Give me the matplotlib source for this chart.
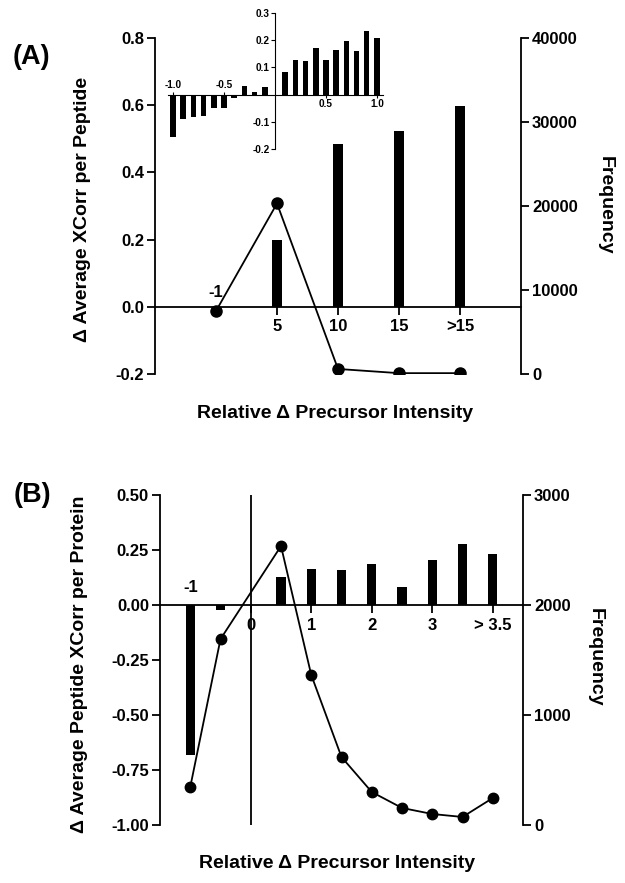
import matplotlib
matplotlib.use("Agg")
import matplotlib.pyplot as plt
import numpy as np

plt.rcParams['font.family'] = ['Liberation Sans', 'DejaVu Sans']
plt.rcParams['font.weight'] = 'bold'

# ---------------- Panel A data ----------------
a_categories = ["-1", "5", "10", "15", ">15"]
a_xcorr = [0.0, 0.20, 0.484, 0.522, 0.597]          # bars, left axis
a_freq = [7500, 20300, 600, 100, 100]                 # line, right axis

# inset
inset_x = [-1.0, -0.9, -0.8, -0.7, -0.6, -0.5, -0.4, -0.3, -0.2, -0.1,
           0.1, 0.2, 0.3, 0.4, 0.5, 0.6, 0.7, 0.8, 0.9, 1.0]
inset_vals = [-0.156, -0.091, -0.082, -0.079, -0.051, -0.051, -0.013, 0.030, 0.008, 0.027,
              0.084, 0.127, 0.123, 0.170, 0.128, 0.163, 0.196, 0.160, 0.233, 0.209]
inset_ticks = [-1.0, -0.5, 0.5, 1.0]
inset_ticklabels = ["-1.0", "-0.5", "0.5", "1.0"]

# ---------------- Panel B data ----------------
b_x = [-1, -0.5, 0.5, 1, 1.5, 2, 2.5, 3, 3.5, 4]
b_xcorr = [-0.682, -0.023, 0.129, 0.162, 0.158, 0.186, 0.083, 0.203, 0.276, 0.232]
b_freq = [345, 1690, 2536, 1364, 618, 300, 155, 100, 73, 245]
b_ticks = [-1, 0, 1, 2, 3, 4]
b_ticklabels = ["-1", "0", "1", "2", "3", "> 3.5"]

W, H = 625, 883
fig = plt.figure(figsize=(W / 100, H / 100), dpi=100)

def fx(px):
    return px / W

def fy(py):
    return 1 - py / H

LW = 1.3
TICKFS = 12
LABELFS = 14
INFS = 7.2

def style_main(ax, ax2):
    for s in ['top', 'right']:
        ax.spines[s].set_visible(False)
    ax.spines['left'].set_linewidth(LW)
    ax.spines['bottom'].set_position(('data', 0))
    ax.spines['bottom'].set_linewidth(LW)
    for s in ['top', 'left', 'bottom']:
        ax2.spines[s].set_visible(False)
    ax2.spines['right'].set_linewidth(LW)
    ax.tick_params(axis='y', direction='out', length=6, width=LW, labelsize=TICKFS, pad=2)
    ax.tick_params(axis='x', direction='out', length=6, width=LW, labelsize=TICKFS, pad=3)
    ax2.tick_params(axis='y', direction='out', length=6, width=LW, labelsize=TICKFS, pad=2)
    for t in ax.get_yticklabels() + ax2.get_yticklabels() + ax.get_xticklabels():
        t.set_fontweight('bold')

# ---------------- Panel A ----------------
axA = fig.add_axes([fx(155), fy(374), fx(521 - 155), (374 - 38) / H])
axA2 = axA.twinx()
posA = np.arange(len(a_categories))
axA.bar(posA, a_xcorr, width=0.15, color='black', zorder=2)
axA2.plot(posA, a_freq, color='black', lw=1.3, marker='o', ms=8, zorder=3)
axA.set_xlim(-1, 5)
axA.set_ylim(-0.2, 0.8)
axA.set_yticks([-0.2, 0.0, 0.2, 0.4, 0.6, 0.8])
axA.set_yticklabels(["-0.2", "0.0", "0.2", "0.4", "0.6", "0.8"])
axA2.set_ylim(0, 40000)
axA2.set_yticks([0, 10000, 20000, 30000, 40000])
axA.set_xticks(posA[1:])
axA.set_xticklabels(a_categories[1:])
style_main(axA, axA2)
axA.annotate(a_categories[0], (posA[0], 0), xytext=(0, 5), textcoords='offset points',
             ha='center', va='bottom', fontsize=TICKFS, fontweight='bold')

fig.text(fx(31), fy(57), "(A)", fontsize=19.5, fontweight='bold', ha='center', va='center')
fig.text(fx(83), fy(209), "Δ Average XCorr per Peptide", rotation=90, fontsize=LABELFS,
         fontweight='bold', ha='center', va='center')
fig.text(fx(605), fy(205), "Frequency", rotation=270, fontsize=LABELFS,
         fontweight='bold', ha='center', va='center')
fig.text(fx(335), fy(413), "Relative Δ Precursor Intensity", fontsize=LABELFS,
         fontweight='bold', ha='center', va='center')

# inset
axI = fig.add_axes([fx(168), fy(149), fx(383 - 168), (149 - 13) / H])
axI.patch.set_alpha(0)
axI.bar(inset_x, inset_vals, width=0.055, color='black')
axI.set_xlim(-1.05, 1.06)
axI.set_ylim(-0.2, 0.3)
for s in ['top', 'right']:
    axI.spines[s].set_visible(False)
axI.spines['left'].set_position(('data', 0))
axI.spines['bottom'].set_position(('data', 0))
axI.spines['left'].set_linewidth(0.8)
axI.spines['bottom'].set_linewidth(0.8)
axI.set_yticks([-0.2, -0.1, 0.1, 0.2, 0.3])
axI.set_yticklabels(["-0.2", "-0.1", "0.1", "0.2", "0.3"])
axI.tick_params(axis='y', direction='out', length=3, width=0.8, labelsize=INFS, pad=1)
for t in axI.get_yticklabels():
    t.set_fontweight('bold')
axI.set_xticks(inset_ticks)
axI.set_xticklabels([])
axI.tick_params(axis='x', direction='inout', length=4, width=0.8)
for xv, lab in zip(inset_ticks, inset_ticklabels):
    if xv < 0:
        axI.annotate(lab, (xv, 0), xytext=(0, 3), textcoords='offset points',
                     ha='center', va='bottom', fontsize=INFS, fontweight='bold')
    else:
        axI.annotate(lab, (xv, 0), xytext=(0, -3), textcoords='offset points',
                     ha='center', va='top', fontsize=INFS, fontweight='bold')

# ---------------- Panel B ----------------
axB = fig.add_axes([fx(160), fy(825), fx(523 - 160), (825 - 495) / H])
axB2 = axB.twinx()
axB.bar(b_x, b_xcorr, width=0.15, color='black', zorder=2)
axB2.plot(b_x, b_freq, color='black', lw=1.3, marker='o', ms=7.5, zorder=3)
axB.axvline(0, color='black', lw=LW, zorder=1)
axB.set_xlim(-1.5, 4.5)
axB.set_ylim(-1.0, 0.5)
axB.set_yticks([-1.0, -0.75, -0.5, -0.25, 0.0, 0.25, 0.5])
axB.set_yticklabels(["-1.00", "-0.75", "-0.50", "-0.25", "0.00", "0.25", "0.50"])
axB2.set_ylim(0, 3000)
axB2.set_yticks([0, 1000, 2000, 3000])
axB.set_xticks(b_ticks[1:])
axB.set_xticklabels(b_ticklabels[1:])
style_main(axB, axB2)
axB.annotate(b_ticklabels[0], (b_ticks[0], 0), xytext=(0, 7), textcoords='offset points',
             ha='center', va='bottom', fontsize=TICKFS, fontweight='bold')

fig.text(fx(32), fy(495), "(B)", fontsize=19.5, fontweight='bold', ha='center', va='center')
fig.text(fx(80), fy(664), "Δ Average Peptide XCorr per Protein", rotation=90, fontsize=LABELFS,
         fontweight='bold', ha='center', va='center')
fig.text(fx(595), fy(657), "Frequency", rotation=270, fontsize=LABELFS,
         fontweight='bold', ha='center', va='center')
fig.text(fx(337), fy(863), "Relative Δ Precursor Intensity", fontsize=LABELFS,
         fontweight='bold', ha='center', va='center')

fig.savefig("out.png", dpi=100)
